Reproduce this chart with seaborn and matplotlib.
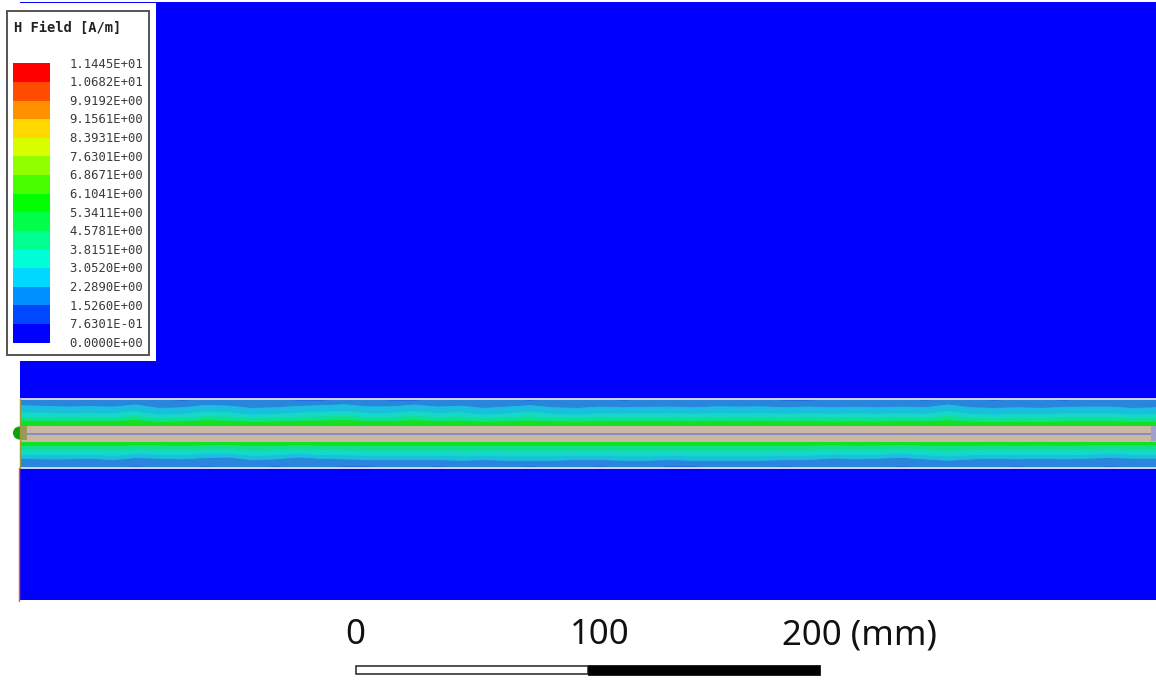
import numpy as np
import pandas as pd
import matplotlib
matplotlib.use('Agg')
import matplotlib.pyplot as plt
from matplotlib.colors import ListedColormap, BoundaryNorm
from matplotlib.patches import Circle, Rectangle
import seaborn as sns

# legend levels, top to bottom
level_labels = ['1.1445E+01', '1.0682E+01', '9.9192E+00', '9.1561E+00', '8.3931E+00', '7.6301E+00',
                '6.8671E+00', '6.1041E+00', '5.3411E+00', '4.5781E+00', '3.8151E+00', '3.0520E+00',
                '2.2890E+00', '1.5260E+00', '7.6301E-01', '0.0000E+00']
level_colors = ['#ff0000', '#ff4c00', '#ff9000', '#ffd800', '#d8ff00', '#90ff00', '#48ff00', '#00ff00',
                '#00ff48', '#00ff90', '#00ffd8', '#00d8ff', '#0090ff', '#0048ff', '#0000ff']

# distance of each contour from the line centre (mm), read every 10 mm along the line
x_mm = list(range(0, 510, 10))
edge_top = [14.9, 14.9, 14.9, 14.9, 14.9, 14.9, 14.9, 14.3, 14.9, 14.9, 14.9, 14.9, 14.3, 14.3, 14.9, 14.9, 14.3, 14.3, 14.9, 14.9, 14.9, 14.9, 14.3, 14.9, 14.9, 14.9, 14.3, 14.9, 14.9, 14.9, 14.9, 14.9, 14.9, 14.3, 14.3, 14.9, 14.9, 14.9, 14.9, 14.3, 14.9, 14.9, 14.3, 14.9, 14.9, 14.3, 14.9, 14.9, 14.9, 14.9, 14.9]
b1_top = [12.1, 11.8, 11.5, 11.7, 11.5, 12.4, 10.9, 11.2, 12.2, 11.9, 10.9, 11.2, 11.8, 12.1, 12.5, 11.6, 11.6, 12.4, 11.5, 11.9, 10.9, 11.5, 12.1, 11.2, 10.9, 11.5, 11.2, 11.4, 11.5, 11.2, 11.6, 11.5, 11.6, 11.2, 11.5, 11.2, 11.4, 11.2, 11.5, 11.2, 12.4, 11.2, 10.9, 11.2, 10.9, 11.4, 11.5, 11.5, 10.9, 11.2, 11.2]
b2_top = [9.0, 8.9, 8.6, 8.8, 8.7, 9.5, 8.0, 8.4, 9.4, 9.1, 8.0, 8.4, 8.9, 9.3, 9.7, 8.7, 8.8, 9.5, 8.7, 9.1, 8.0, 8.6, 9.3, 8.4, 8.0, 8.7, 8.5, 8.7, 8.8, 8.4, 8.8, 8.7, 8.8, 8.4, 8.7, 8.4, 8.6, 8.4, 8.7, 8.4, 9.6, 8.4, 8.0, 8.4, 8.1, 8.6, 8.7, 8.7, 8.0, 8.4, 8.4]
b3_top = [7.0, 6.9, 6.8, 6.9, 6.8, 7.4, 6.3, 6.6, 7.3, 7.1, 6.3, 6.6, 7.0, 7.2, 7.5, 6.9, 6.9, 7.4, 6.9, 7.1, 6.3, 6.8, 7.2, 6.6, 6.4, 6.9, 6.7, 6.9, 7.0, 6.6, 7.0, 6.9, 7.0, 6.6, 6.9, 6.6, 6.8, 6.6, 6.9, 6.6, 7.5, 6.6, 6.3, 6.6, 6.4, 6.8, 6.9, 6.9, 6.3, 6.6, 6.6]
b4_top = [5.4, 5.3, 5.2, 5.3, 5.3, 5.7, 4.9, 5.1, 5.6, 5.4, 4.9, 5.1, 5.4, 5.5, 5.7, 5.3, 5.3, 5.6, 5.3, 5.4, 4.9, 5.2, 5.5, 5.1, 5.0, 5.2, 5.2, 5.3, 5.3, 5.1, 5.3, 5.2, 5.3, 5.1, 5.2, 5.0, 5.1, 5.0, 5.3, 5.1, 5.6, 5.0, 4.8, 5.0, 4.8, 5.1, 5.2, 5.2, 4.9, 5.0, 5.0]
edge_bot = [14.7, 14.7, 14.7, 14.7, 14.7, 14.1, 14.7, 14.7, 14.1, 14.7, 14.7, 14.1, 14.7, 14.7, 14.1, 14.1, 14.7, 14.7, 14.1, 14.7, 14.7, 14.7, 14.1, 14.7, 14.7, 14.1, 14.7, 14.7, 14.1, 14.1, 14.7, 14.7, 14.7, 14.1, 14.7, 14.7, 14.7, 14.7, 14.1, 14.7, 14.7, 14.7, 14.7, 14.1, 14.7, 14.7, 14.7, 14.1, 14.7, 14.7, 14.7]
b1_bot = [10.6, 10.9, 10.9, 10.6, 11.2, 10.3, 10.6, 10.9, 10.3, 10.1, 11.2, 10.9, 10.1, 10.7, 10.9, 11.2, 11.2, 11.2, 11.2, 11.5, 11.2, 11.5, 11.5, 11.5, 11.2, 11.2, 11.5, 11.5, 11.2, 11.5, 11.5, 11.5, 11.5, 11.2, 11.2, 10.5, 10.9, 10.6, 10.2, 10.9, 11.5, 10.9, 10.6, 10.9, 10.6, 10.9, 10.6, 10.3, 10.6, 10.6, 10.6]
b2_bot = [8.9, 9.1, 9.1, 8.9, 9.4, 8.6, 8.9, 9.1, 8.6, 8.4, 9.4, 9.1, 8.5, 9.0, 9.1, 9.4, 9.4, 9.3, 9.3, 9.6, 9.3, 9.6, 9.6, 9.6, 9.3, 9.3, 9.6, 9.6, 9.3, 9.6, 9.6, 9.6, 9.6, 9.3, 9.3, 8.8, 9.1, 8.9, 8.5, 9.1, 9.6, 9.1, 8.9, 9.1, 8.9, 9.1, 8.9, 8.6, 8.9, 8.9, 8.9]
b3_bot = [6.8, 6.9, 6.9, 6.8, 7.0, 6.5, 6.7, 6.9, 6.5, 6.4, 7.0, 6.9, 6.5, 6.8, 6.9, 7.0, 7.0, 7.0, 7.0, 7.1, 7.0, 7.1, 7.1, 7.1, 7.0, 7.0, 7.1, 7.1, 7.0, 7.1, 7.1, 7.1, 7.1, 7.0, 7.0, 6.6, 6.9, 6.7, 6.4, 6.9, 7.1, 6.9, 6.7, 6.9, 6.7, 6.9, 6.7, 6.5, 6.7, 6.7, 6.7]
b4_bot = [5.0, 5.1, 5.1, 5.0, 5.2, 4.8, 4.9, 5.1, 4.8, 4.7, 5.2, 5.1, 4.8, 5.0, 5.1, 5.2, 5.1, 5.0, 5.0, 5.1, 5.0, 5.1, 5.1, 5.1, 5.0, 5.0, 5.1, 5.1, 5.0, 5.1, 5.1, 5.1, 5.1, 5.0, 5.0, 4.8, 5.0, 4.9, 4.7, 5.0, 5.2, 5.0, 4.9, 5.0, 4.9, 5.0, 4.9, 4.8, 4.9, 4.9, 4.9]
line_half_width = 3.4

# muted band colours seen through the transparent overlay, outer to inner
band_colors = ['#1a5ae0', '#2a85dc', '#1abfe0', '#14d9c4', '#12e08e', '#12e020']

scale_ticks = [0, 100, 200]

W, H = 1156, 680


def px_axes(x0, y0, x1, y1, **kw):
    return fig.add_axes([x0 / W, 1 - y1 / H, (x1 - x0) / W, (y1 - y0) / H], **kw)


sns.set_style("white")
fig = plt.figure(figsize=(W / 100, H / 100), dpi=100, facecolor='white')

# main field view, in mm
ax = px_axes(20, 2, 1156, 600, facecolor='#0000ff')
ax.set_xlim(0, 489.7)
ax.set_ylim(-71.7, 186.1)
ax.set_xticks([])
ax.set_yticks([])
sns.despine(ax=ax, left=True, bottom=True)

top_edges = [edge_top, edge_top, b1_top, b2_top, b3_top, b4_top]
bot_edges = [edge_bot, edge_bot, b1_bot, b2_bot, b3_bot, b4_bot]
ax.fill_between(x_mm, 14.9, -14.7, color=band_colors[1], lw=0, zorder=1)
ax.fill_between(x_mm, 14.9, edge_top, color=band_colors[0], lw=0, zorder=1.5)
ax.fill_between(x_mm, -14.7, -np.array(edge_bot), color=band_colors[0], lw=0, zorder=1.5)
for i in range(2, 6):
    outer_t = np.array(top_edges[i])
    outer_b = -np.array(bot_edges[i])
    ax.fill_between(x_mm, outer_t, outer_b, color=band_colors[i], lw=0, zorder=i)
    sns.lineplot(x=x_mm, y=top_edges[i], color=band_colors[i], lw=0.6, ax=ax, zorder=i, errorbar=None)
    sns.lineplot(x=x_mm, y=outer_b, color=band_colors[i], lw=0.6, ax=ax, zorder=i, errorbar=None)

# conductor
ax.axhspan(-line_half_width, line_half_width, color='#c8b8a4', lw=0, zorder=7)
ax.axhspan(-0.45, 0.45, color='#8a8cc0', lw=0, zorder=8)
ax.add_patch(Rectangle((487.5, -3.2), 3, 6.4, color='#a0a0cc', lw=0, zorder=9))
ax.axhline(15.0, color='#d4d4f4', lw=1.4, zorder=6)
ax.axhline(-14.8, color='#d4d4f4', lw=1.4, zorder=6)

# port marker and left boundary
overlay = fig.add_axes([0, 0, 1, 1], facecolor='none')
overlay.set_xlim(0, W)
overlay.set_ylim(H, 0)
overlay.axis('off')
overlay.add_patch(Circle((19.5, 433), 6.5, color='#0fa00f', lw=0))
overlay.add_patch(Rectangle((20, 426), 7, 14, color='#9a9a60', lw=0))
overlay.plot([20, 20], [399, 468], color='#9a9a30', lw=1.0)
overlay.plot([19, 19], [468, 601], color='#f0503a', lw=1.0)

# legend panel
panel = px_axes(0, 3, 156, 361, facecolor='white')
panel.set_xticks([])
panel.set_yticks([])
sns.despine(ax=panel, left=True, bottom=True)
overlay2 = fig.add_axes([0, 0, 1, 1], facecolor='none')
overlay2.set_xlim(0, W)
overlay2.set_ylim(H, 0)
overlay2.axis('off')
overlay2.add_patch(Rectangle((6.5, 11), 142.5, 344, fill=False, ec='#555555', lw=1.4))
overlay2.text(14, 27.5, 'H Field [A/m]', family='DejaVu Sans Mono', fontweight='bold', fontsize=9.9,
              ha='left', va='center', color='#222222')
level_y = np.linspace(64, 343.5, len(level_labels))
for yy, lab in zip(level_y, level_labels):
    overlay2.text(143, yy, lab, family='DejaVu Sans Mono', fontsize=8.85, ha='right', va='center',
                  color='#3a3a3a')

level_values = np.array([float(s) for s in level_labels])[::-1]
mids = (level_values[:-1] + level_values[1:]) / 2
bar_df = pd.DataFrame({'H': mids[::-1]})
cbar_ax = px_axes(13, 63.3, 50, 342.7)
sns.heatmap(bar_df, ax=cbar_ax, cbar=False, xticklabels=False, yticklabels=False,
            cmap=ListedColormap(level_colors[::-1]), norm=BoundaryNorm(level_values, 15))
cbar_ax.set_ylabel('')

# scale bar, in mm
scale_ax = px_axes(356, 665, 820, 675)
scale_ax.set_xlim(scale_ticks[0], scale_ticks[-1])
scale_ax.set_ylim(0, 1)
scale_ax.axis('off')
scale_ax.barh(0.5, scale_ticks[1] - scale_ticks[0], left=scale_ticks[0], height=0.8, color='white',
              edgecolor='#333333', lw=1.2, clip_on=False)
scale_ax.barh(0.5, scale_ticks[2] - scale_ticks[1], left=scale_ticks[1], height=1.0, color='black',
              edgecolor='black', lw=0.5, clip_on=False)

txt = dict(family='Noto Sans', fontsize=25, va='center', color='#111111')
overlay2.text(355.5, 635, '0', ha='center', **txt)
overlay2.text(600, 635, '100', ha='center', **txt)
overlay2.text(782, 635, '200 (mm)', ha='left', **txt)

fig.savefig('out.png', dpi=100, facecolor='white')
